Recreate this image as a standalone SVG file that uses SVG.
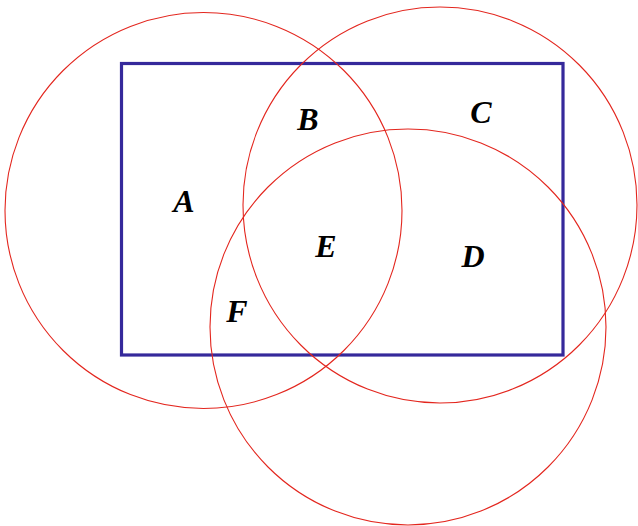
<svg xmlns="http://www.w3.org/2000/svg" width="638" height="526" viewBox="0 0 638 526">
<style>
.set{fill:none;stroke:#e3261e;stroke-width:1.1}
.lbl{font-family:"Liberation Serif","DejaVu Serif",serif;font-weight:bold;font-style:italic;font-size:32px;fill:#000;text-anchor:middle}
</style>
<rect width="638" height="526" fill="#fff"/>
<g id="universe"><rect x="121.5" y="63.5" width="441.5" height="291.5" fill="none" stroke="#35299b" stroke-width="3.2"/></g>
<g id="set1"><ellipse class="set" cx="203.5" cy="210.5" rx="198.5" ry="198"/></g>
<g id="set2"><ellipse class="set" cx="440" cy="205" rx="197" ry="198"/></g>
<g id="set3"><ellipse class="set" cx="408" cy="327" rx="198" ry="198"/></g>
<g id="labels">
<text class="lbl" x="184" y="212">A</text>
<text class="lbl" x="308" y="130">B</text>
<text class="lbl" x="481" y="123">C</text>
<text class="lbl" x="473" y="267">D</text>
<text class="lbl" x="326" y="257">E</text>
<text class="lbl" x="237" y="322">F</text>
</g>
</svg>
